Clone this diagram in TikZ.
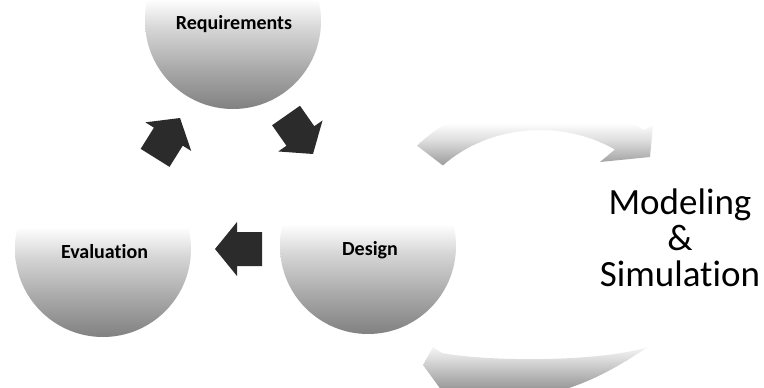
\documentclass[tikz,border=0pt]{standalone}
\usepackage{fontspec}
\setmainfont{Carlito}[Ligatures=NoCommon]

% a disc of radius 88 that fades from white (above its centre) to grey (bottom)
\newcommand\fadedisc[2]{%
  \begin{scope}
    \clip (#1,#2) circle[radius=88];
    \shade[top color=white, bottom color=black!15] (#1-90,#2-22) rectangle (#1+90,#2+5.5);
    \shade[top color=black!15, bottom color=black!32] (#1-90,#2+5) rectangle (#1+90,#2+44.5);
    \shade[top color=black!32, bottom color=black!50] (#1-90,#2+44) rectangle (#1+90,#2+90);
  \end{scope}}

\begin{document}
\begin{tikzpicture}[x=1pt,y=-1pt,
  phase/.style={font=\fontsize{20}{24}\selectfont\bfseries, anchor=base, inner sep=0pt},
  bigtext/.style={font=\fontsize{37}{42}\selectfont, anchor=base, inner sep=0pt},
  blockarrow/.pic={\fill[black!83] (0,0) -- (-22,27) -- (-22,17) -- (-47,17) -- (-47,-17) -- (-22,-17) -- (-22,-27) -- cycle;}]
\useasboundingbox (0,0) rectangle (764,388);
\clip (0,0) rectangle (764,388);
\fill[white] (0,0) rectangle (764,388);

% phase discs
\fadedisc{233}{21}
\fadedisc{103}{249}
\fadedisc{368}{246}

% block arrows of the cycle
\pic[rotate=58] at (180,118) {blockarrow};
\pic[rotate=-55] at (313,154) {blockarrow};
\pic[rotate=180] at (215,249) {blockarrow};

% upper circular arrow of the modelling loop
\begin{scope}
  \clip (417.1,145.7)
    arc[start angle=-137, end angle=-51.8, x radius=168, y radius=150]
    -- (653,125) -- (650,157) -- (600,162) -- (614.9,149.5)
    arc[start angle=-56.6, end angle=-135.6, x radius=136, y radius=118]
    -- cycle;
  \shade[top color=white, bottom color=black!15] (400,123) rectangle (670,142.5);
  \shade[top color=black!15, bottom color=black!44] (400,142) rectangle (670,170);
\end{scope}

% lower circular arrow of the modelling loop
\begin{scope}
  \clip (648,347)
    .. controls (620,365) and (590,385) .. (540,396)
    .. controls (500,403) and (470,400) .. (455,394)
    -- (450,402) -- (423,365) -- (433,347) -- (442,353)
    .. controls (490,362) and (600,362) .. (648,347) -- cycle;
  \shade[top color=white, bottom color=black!15] (400,342) rectangle (670,360.5);
  \shade[top color=black!15, bottom color=black!40] (400,360) rectangle (670,388.5);
  \shade[top color=black!40, bottom color=black!50] (400,388) rectangle (670,406);
\end{scope}

% labels
\node[phase] (req) at (234,30) {Requirements};
\node[phase] (eval) at (104.5,258) {Evaluation};
\node[phase] (des) at (370,255) {Design};
\node[bigtext] (mod) at (680,214) {Modeling};
\node[bigtext] (amp) at (680,250) {\&};
\node[bigtext] (sim) at (680,286) {Simulation};
\end{tikzpicture}
\end{document}
